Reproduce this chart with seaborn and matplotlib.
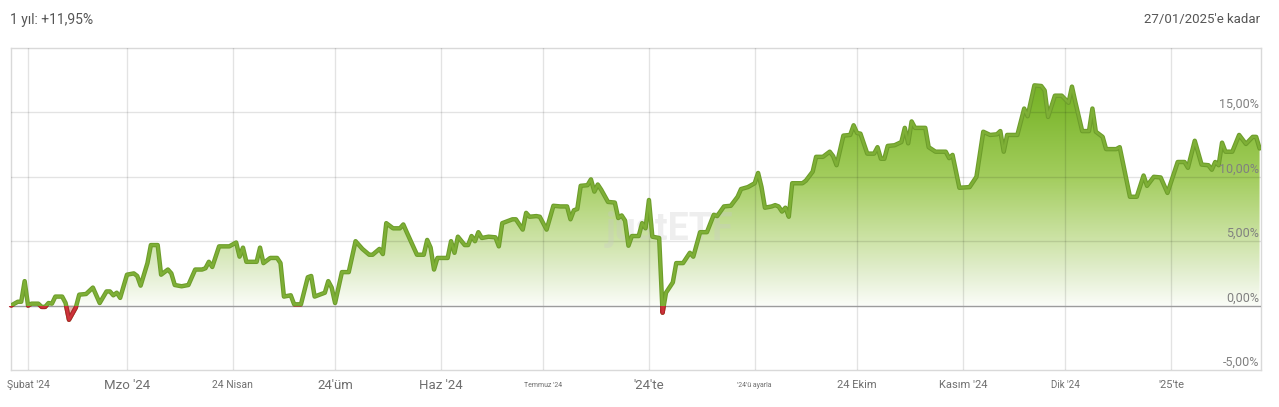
import numpy as np
import pandas as pd
import matplotlib
matplotlib.use("Agg")
import matplotlib.pyplot as plt
import matplotlib.dates as mdates
import matplotlib.patheffects as pe
from matplotlib.colors import LinearSegmentedColormap
from matplotlib.patches import Rectangle
import seaborn as sns

# ---------------- data ----------------
dates = [
    "2024-01-27", "2024-01-29", "2024-01-30", "2024-01-31", "2024-02-01", "2024-02-02",
    "2024-02-04", "2024-02-05", "2024-02-06", "2024-02-07", "2024-02-08", "2024-02-09",
    "2024-02-11", "2024-02-12", "2024-02-13", "2024-02-15", "2024-02-16", "2024-02-18",
    "2024-02-20", "2024-02-22", "2024-02-24", "2024-02-25", "2024-02-26", "2024-02-27",
    "2024-02-28", "2024-03-01", "2024-03-03", "2024-03-04", "2024-03-05", "2024-03-07",
    "2024-03-08", "2024-03-10", "2024-03-11", "2024-03-13", "2024-03-14", "2024-03-15",
    "2024-03-17", "2024-03-19", "2024-03-21", "2024-03-23", "2024-03-24", "2024-03-25",
    "2024-03-26", "2024-03-28", "2024-03-31", "2024-04-02", "2024-04-03", "2024-04-04",
    "2024-04-05", "2024-04-08", "2024-04-09", "2024-04-10", "2024-04-12", "2024-04-14",
    "2024-04-15", "2024-04-16", "2024-04-18", "2024-04-19", "2024-04-21", "2024-04-23",
    "2024-04-24", "2024-04-25", "2024-04-28", "2024-04-29", "2024-04-30", "2024-05-01",
    "2024-05-03", "2024-05-05", "2024-05-07", "2024-05-09", "2024-05-11", "2024-05-12",
    "2024-05-14", "2024-05-15", "2024-05-16", "2024-05-18", "2024-05-20", "2024-05-21",
    "2024-05-22", "2024-05-25", "2024-05-27", "2024-05-28", "2024-05-29", "2024-05-30",
    "2024-05-31", "2024-06-03", "2024-06-04", "2024-06-05", "2024-06-06", "2024-06-08",
    "2024-06-09", "2024-06-10", "2024-06-11", "2024-06-12", "2024-06-13", "2024-06-15",
    "2024-06-17", "2024-06-18", "2024-06-19", "2024-06-22", "2024-06-23", "2024-06-25",
    "2024-06-26", "2024-06-27", "2024-06-29", "2024-06-30", "2024-07-02", "2024-07-04",
    "2024-07-06", "2024-07-08", "2024-07-09", "2024-07-10", "2024-07-11", "2024-07-12",
    "2024-07-14", "2024-07-15", "2024-07-16", "2024-07-17", "2024-07-18", "2024-07-20",
    "2024-07-22", "2024-07-23", "2024-07-24", "2024-07-25", "2024-07-26", "2024-07-27",
    "2024-07-29", "2024-07-30", "2024-07-31", "2024-08-01", "2024-08-02", "2024-08-04",
    "2024-08-05", "2024-08-06", "2024-08-08", "2024-08-09", "2024-08-11", "2024-08-13",
    "2024-08-14", "2024-08-16", "2024-08-18", "2024-08-20", "2024-08-21", "2024-08-23",
    "2024-08-25", "2024-08-27", "2024-08-28", "2024-08-30", "2024-09-01", "2024-09-02",
    "2024-09-03", "2024-09-04", "2024-09-06", "2024-09-07", "2024-09-08", "2024-09-09",
    "2024-09-10", "2024-09-11", "2024-09-12", "2024-09-15", "2024-09-16", "2024-09-18",
    "2024-09-19", "2024-09-21", "2024-09-23", "2024-09-24", "2024-09-25", "2024-09-27",
    "2024-09-29", "2024-09-30", "2024-10-01", "2024-10-02", "2024-10-04", "2024-10-06",
    "2024-10-07", "2024-10-08", "2024-10-09", "2024-10-10", "2024-10-12", "2024-10-14",
    "2024-10-15", "2024-10-16", "2024-10-17", "2024-10-18", "2024-10-21", "2024-10-22",
    "2024-10-24", "2024-10-27", "2024-10-28", "2024-10-29", "2024-10-31", "2024-11-03",
    "2024-11-05", "2024-11-07", "2024-11-09", "2024-11-11", "2024-11-12", "2024-11-13",
    "2024-11-14", "2024-11-17", "2024-11-19", "2024-11-20", "2024-11-22", "2024-11-24",
    "2024-11-25", "2024-11-26", "2024-11-28", "2024-11-30", "2024-12-02", "2024-12-03",
    "2024-12-04", "2024-12-06", "2024-12-08", "2024-12-09", "2024-12-10", "2024-12-12",
    "2024-12-13", "2024-12-16", "2024-12-17", "2024-12-20", "2024-12-22", "2024-12-24",
    "2024-12-25", "2024-12-27", "2024-12-29", "2024-12-31", "2025-01-03", "2025-01-05",
    "2025-01-06", "2025-01-08", "2025-01-10", "2025-01-12", "2025-01-13", "2025-01-14",
    "2025-01-15", "2025-01-16", "2025-01-17", "2025-01-19", "2025-01-21", "2025-01-23",
    "2025-01-25", "2025-01-26", "2025-01-27",
]
returns_pct = [
    0.0, 0.3, 0.3, 1.9, 0.0, 0.15,
    0.15, -0.1, -0.1, 0.2, 0.15, 0.7,
    0.7, 0.2, -1.1, -0.15, 0.85, 0.9,
    1.4, 0.2, 1.1, 1.1, 0.8, 1.0,
    0.6, 2.4, 2.5, 2.3, 1.55, 3.3,
    4.7, 4.7, 2.4, 2.8, 2.5, 1.6,
    1.5, 1.6, 2.8, 2.8, 2.9, 3.4,
    3.0, 4.6, 4.6, 4.9, 3.8, 4.5,
    3.4, 3.4, 4.5, 3.3, 3.7, 3.7,
    3.3, 0.7, 0.8, 0.1, 0.1, 2.2,
    2.3, 0.7, 1.0, 1.9, 1.4, 0.2,
    2.6, 2.6, 5.0, 4.4, 3.95, 3.95,
    4.4, 4.0, 6.4, 6.0, 6.0, 6.3,
    5.7, 3.95, 3.95, 5.1, 4.5, 2.8,
    3.7, 3.7, 5.0, 4.1, 5.35, 4.7,
    4.7, 5.4, 5.0, 5.7, 5.25, 5.35,
    5.3, 4.6, 6.4, 6.7, 6.7, 5.9,
    7.2, 6.9, 6.95, 6.9, 5.9, 7.75,
    7.7, 7.7, 6.7, 7.4, 7.5, 9.3,
    9.35, 9.8, 8.85, 9.4, 9.0, 8.05,
    8.0, 6.8, 7.0, 6.6, 4.65, 5.4,
    5.4, 6.4, 6.0, 8.2, 5.35, 5.25,
    -0.55, 1.0, 1.8, 3.3, 3.3, 4.1,
    3.8, 5.7, 5.7, 7.05, 6.95, 7.7,
    7.75, 8.45, 9.05, 9.2, 9.5, 10.3,
    9.2, 7.6, 7.7, 7.8, 7.7, 7.3,
    7.6, 6.9, 9.5, 9.5, 9.7, 10.4,
    11.55, 11.55, 11.95, 11.6, 10.9, 13.2,
    13.25, 14.0, 13.4, 13.35, 11.8, 11.8,
    12.3, 11.4, 11.4, 12.4, 12.45, 12.7,
    13.8, 12.6, 14.3, 13.8, 13.8, 12.3,
    11.95, 11.95, 11.45, 11.7, 9.15, 9.2,
    10.0, 13.5, 13.25, 13.3, 13.55, 11.95,
    13.25, 13.25, 15.3, 14.7, 17.1, 17.05,
    16.7, 14.65, 16.3, 16.3, 15.75, 17.0,
    15.8, 13.55, 13.55, 15.3, 13.5, 13.1,
    12.15, 12.15, 12.3, 8.45, 8.45, 10.1,
    9.3, 10.0, 9.95, 8.75, 11.15, 11.15,
    10.7, 12.8, 10.95, 10.9, 10.55, 11.15,
    10.9, 12.65, 11.95, 11.95, 13.25, 12.55,
    13.1, 13.1, 12.2,
]
month_ticks = ["2024-02-01", "2024-03-01", "2024-04-01", "2024-05-01", "2024-06-01",
               "2024-07-01", "2024-08-01", "2024-09-01", "2024-10-01", "2024-11-01",
               "2024-12-01", "2025-01-01"]
month_labels = ["Şubat '24", "Mzo '24", "24 Nisan", "24'üm", "Haz '24", "Temmuz '24",
                "'24'te", "'24'ü ayarla", "24 Ekim", "Kasım '24", "Dik '24", "'25'te"]
month_label_sizes = [7.5, 9.5, 7.5, 9.5, 9.5, 5.0, 9.5, 5.0, 8.0, 8.0, 7.0, 8.0]
y_ticks = [-5, 0, 5, 10, 15]
y_tick_labels = ["-5,00%", "0,00%", "5,00%", "10,00%", "15,00%"]
title_left = "1 yıl: +11,95%"
title_right = "27/01/2025'e kadar"

# ---------------- figure ----------------
sns.set_theme(style="white")
plt.rcParams['font.family'] = ['Roboto', 'DejaVu Sans']

W, H = 1279, 407
fig = plt.figure(figsize=(W / 100, H / 100), dpi=100)
fig.patch.set_facecolor("white")
ax = fig.add_axes([11 / W, 1 - 370 / H, 1250 / W, 322 / H])
ax.set_facecolor("white")

df = pd.DataFrame({"date": pd.to_datetime(dates), "value": returns_pct})
xlo = pd.Timestamp("2024-01-27")
xhi = pd.Timestamp("2025-01-27 10:00")
ymin, ymax = -5, 20

# grid (drawn over the fill, semi-transparent)
grid_col = (0, 0, 0, 0.11)
for t in month_ticks:
    ax.axvline(pd.Timestamp(t), color=grid_col, lw=1, zorder=3.5)
for yv in y_ticks:
    if yv not in (0, -5):
        ax.axhline(yv, color=grid_col, lw=1, zorder=3.5)
ax.axhline(0, color="#9c9c9c", lw=1, zorder=3.6)

line_fx = [pe.Stroke(linewidth=3.2, foreground="#6d9d2b"),
           pe.Stroke(linewidth=1.7, foreground="#7eaf36")]
red_fx = [pe.Stroke(linewidth=3.2, foreground="#b0222a"),
          pe.Stroke(linewidth=1.7, foreground="#cc343a")]

# main line (green)
sns.lineplot(data=df, x="date", y="value", ax=ax, color="#74a52b", lw=3,
             zorder=5, legend=False)
green_line = ax.lines[-1]
green_line.set_path_effects(line_fx)

# red portion below zero (same line, clipped)
sns.lineplot(data=df, x="date", y="value", ax=ax, color="#c0282d", lw=3,
             zorder=6, legend=False)
red_line = ax.lines[-1]
red_line.set_path_effects(red_fx)

x_num = mdates.date2num(df["date"])
v = np.asarray(returns_pct, dtype=float)

ax.set_xlim(xlo, xhi)
ax.set_ylim(ymin, ymax)

clip_rect = Rectangle((mdates.date2num(xlo) - 5, -10), 500, 10, transform=ax.transData)
red_line.set_clip_path(clip_rect)

# gradient fill above zero
poly = ax.fill_between(df["date"], 0, np.maximum(v, 0), facecolor="none",
                       edgecolor="none")
cmap = LinearSegmentedColormap.from_list(
    "g", [(0.0, "#fbfdf8"), (0.14, "#e4efd2"), (0.28, "#cfe4aa"),
          (0.57, "#a3cd5e"), (0.85, "#82ba34"), (1.0, "#74b024")])
grad = np.linspace(0, 1, 256).reshape(-1, 1)
im = ax.imshow(grad, cmap=cmap, origin="lower", aspect="auto",
               extent=[x_num[0], x_num[-1], 0, 17.5], zorder=2,
               interpolation="bilinear")
im.set_clip_path(poly.get_paths()[0], ax.transData)
ax.set_xlim(xlo, xhi)
ax.set_ylim(ymin, ymax)

# red fill below zero
ax.fill_between(df["date"], v, 0, where=v < 0, interpolate=True,
                color="#d9534f", alpha=0.45, lw=0, zorder=3)

# watermark
ax.text(0.527, 0.435, "justETF", transform=ax.transAxes, fontsize=27,
        fontweight="bold", color="#c8c8c8", alpha=0.3, ha="center",
        va="center", zorder=4)

# y labels inside on the right
for yv, lab in zip(y_ticks, y_tick_labels):
    ax.text(0.9985, yv + 0.1, lab, transform=ax.get_yaxis_transform(),
            ha="right", va="bottom", fontsize=9, color="#808080", zorder=7)

# x labels below
ax.set_xticks([])
ax.set_yticks([])
ax.set_xlabel("")
ax.set_ylabel("")
for t, lab, fs in zip(month_ticks, month_labels, month_label_sizes):
    ax.text(pd.Timestamp(t), -0.047, lab, transform=ax.get_xaxis_transform(),
            ha="center", va="center", fontsize=fs, color="#6f6f6f")

for s in ax.spines.values():
    s.set_color("#d9d9d9")
    s.set_linewidth(1)

fig.text(10 / W, 1 - 20 / H, title_left, ha="left", va="center",
         fontsize=10, color="#555555")
fig.text(1260 / W, 1 - 20 / H, title_right, ha="right", va="center",
         fontsize=9.5, color="#555555")

fig.savefig("out.png", dpi=100, facecolor="white")
